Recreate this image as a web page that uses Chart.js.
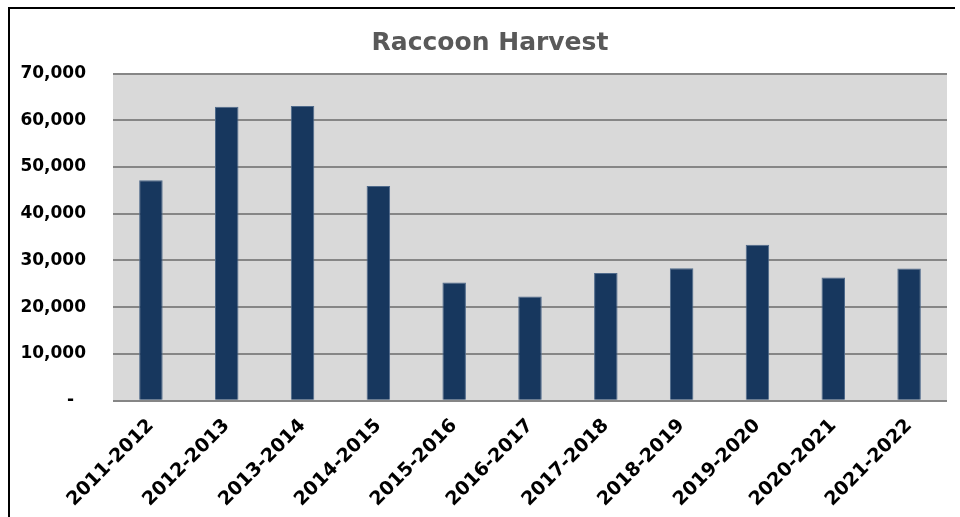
<!DOCTYPE html>
<html>
<head>
<meta charset="utf-8">
<script src="https://cdn.jsdelivr.net/npm/chart.js@4/dist/chart.umd.min.js"></script>
<style>
  html, body { margin: 0; padding: 0; background: #ffffff; }
  #wrap { position: relative; width: 960px; height: 517px; overflow: hidden; }
  #frame { position: absolute; left: 8px; top: 7px; width: 945px; height: 520px;
           border-left: 2px solid #000; border-top: 2px solid #000; pointer-events: none; }
  canvas { position: absolute; left: 0; top: 0; }
</style>
</head>
<body>
<div id="wrap">
  <canvas id="c" width="960" height="517"></canvas>
  <div id="frame"></div>
</div>
<script>
const chartTitle = 'Raccoon Harvest';
const seasons = ['2011-2012','2012-2013','2013-2014','2014-2015','2015-2016','2016-2017',
                 '2017-2018','2018-2019','2019-2020','2020-2021','2021-2022'];
const harvest = [47150, 62900, 63050, 45950, 25300, 22300, 27300, 28350, 33350, 26350, 28300];
const yTickValues = [0, 10000, 20000, 30000, 40000, 50000, 60000, 70000];
const yTickLabels = ['-  ', '10,000', '20,000', '30,000', '40,000', '50,000', '60,000', '70,000'];

const plotBg = {
  id: 'plotBg',
  beforeDraw(chart) {
    const {ctx, chartArea: a} = chart;
    ctx.save();
    ctx.fillStyle = '#D9D9D9';
    ctx.fillRect(a.left, a.top, a.right - a.left, a.bottom - a.top);
    ctx.restore();
  }
};

new Chart(document.getElementById('c'), {
  type: 'bar',
  data: {
    labels: seasons,
    datasets: [{
      label: 'Harvest',
      data: harvest,
      backgroundColor: '#17375E',
      borderColor: '#4F6A8B',
      borderWidth: 1,
      barPercentage: 0.31,
      categoryPercentage: 1.0
    }]
  },
  options: {
    responsive: false,
    animation: false,
    layout: { padding: { left: 33, right: 13, top: 0, bottom: 0 } },
    plugins: {
      legend: { display: false },
      tooltip: { enabled: false },
      title: {
        display: true,
        text: chartTitle,
        color: '#595959',
        font: { family: 'DejaVu Sans', weight: 'bold', size: 25 },
        lineHeight: 1.2,
        padding: { top: 28, bottom: 15.5 }
      }
    },
    scales: {
      x: {
        grid: { display: false },
        border: { display: false },
        ticks: {
          color: '#000000',
          font: { family: 'DejaVu Sans', weight: 'bold', size: 19 },
          minRotation: 45,
          maxRotation: 45,
          padding: 6
        },
        afterFit(scale) { scale.height = 116.3; }
      },
      y: {
        min: 0,
        max: 70000,
        grid: { color: '#868686', lineWidth: 2, drawTicks: false },
        border: { display: false },
        afterBuildTicks(scale) { scale.ticks = yTickValues.map(v => ({ value: v })); },
        ticks: {
          color: '#000000',
          font: { family: 'DejaVu Sans', weight: 'bold', size: 17 },
          padding: 27,
          callback(value) {
            const i = yTickValues.indexOf(value);
            return i >= 0 ? yTickLabels[i] : '';
          }
        },
        afterFit(scale) {
          scale.width = 80;
          // let the tick labels extend left of the narrow axis box without clipping
          scale._computeLabelArea = function () { return undefined; };
        }
      }
    }
  },
  plugins: [plotBg]
});
</script>
</body>
</html>
